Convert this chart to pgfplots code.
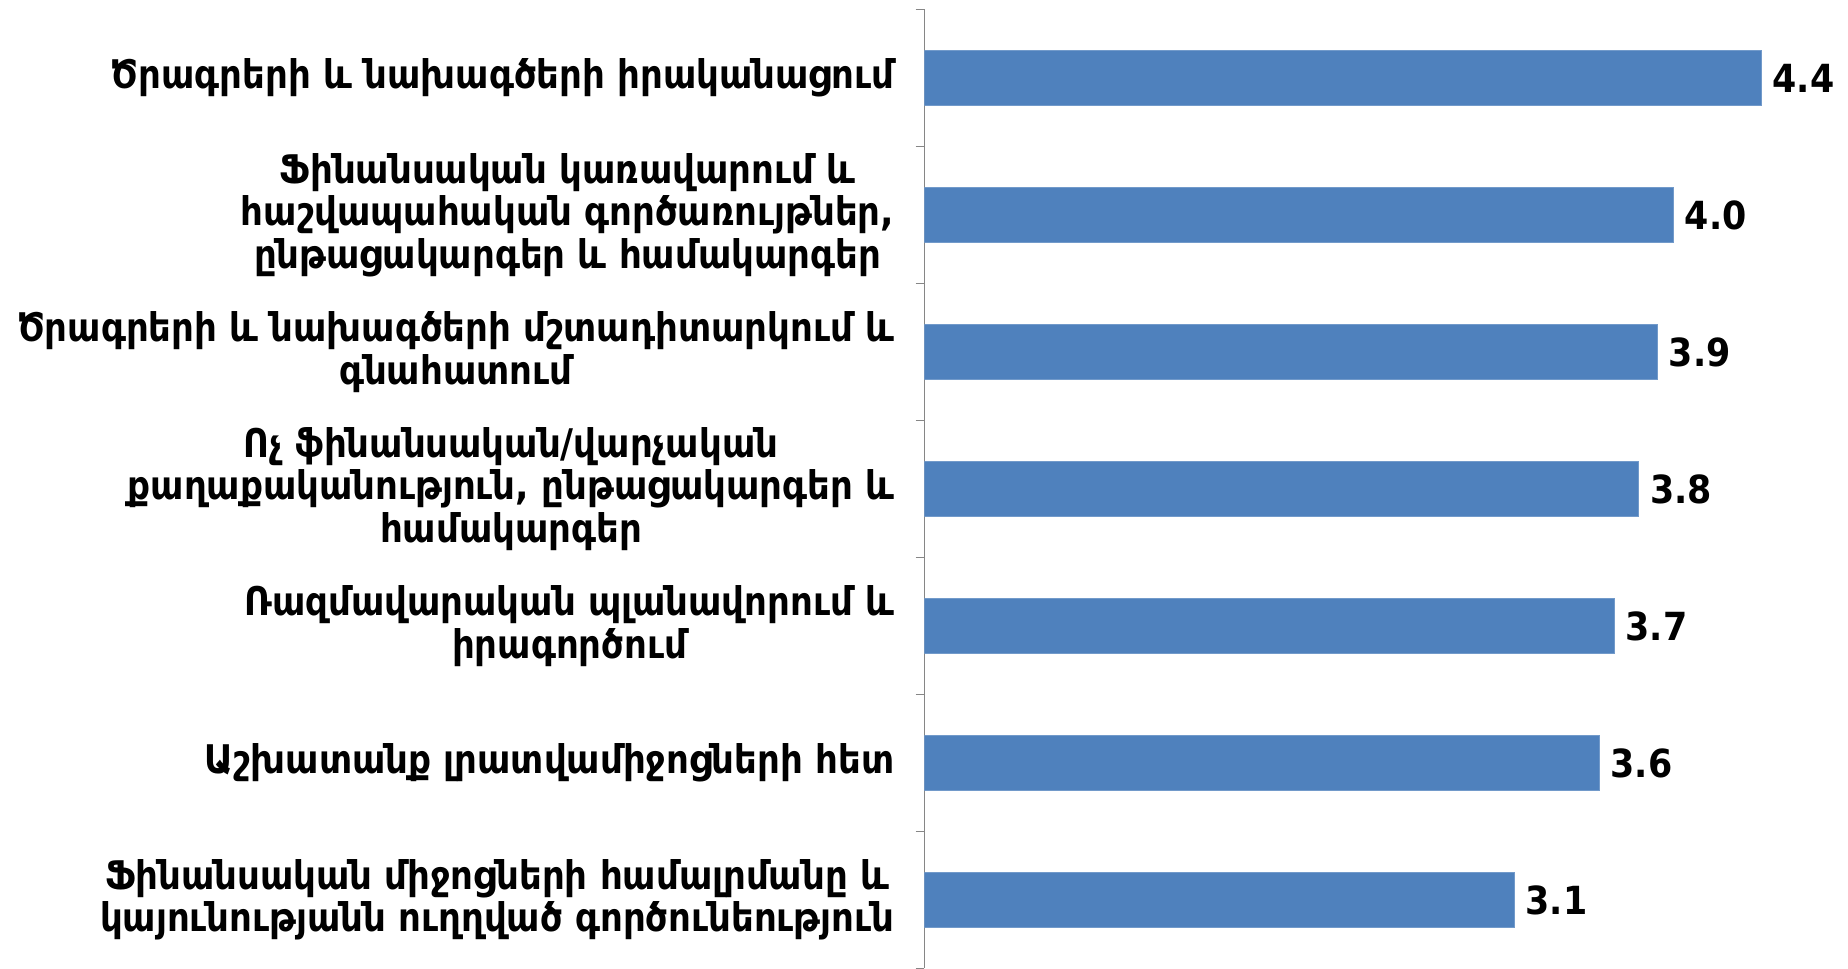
\documentclass[border=0pt]{standalone}
\usepackage{fontspec}
\setmainfont{DejaVu Sans Condensed}
\usepackage{pgfplots}
\pgfplotsset{compat=1.18}
\definecolor{barblue}{HTML}{4F81BD}
\definecolor{axgray}{HTML}{868686}
\begin{document}
\begin{tikzpicture}
\begin{axis}[
    xbar,
    scale only axis,
    width=369.6pt, height=383.8pt,
    xmin=0, xmax=4.9,
    ymin=-0.5, ymax=6.5,
    bar width=0.4,
    axis x line=none,
    axis y line*=left,
    y axis line style={draw=axgray, -},
    ytick={0,...,6},
    major tick length=0pt,
    minor ytick={-0.5,0.5,...,6.5},
    minor tick length=3.6pt,
    tick align=outside,
    minor tick style={axgray},
    yticklabel style={align=center, font=\bfseries\fontsize{15.8}{17}\selectfont, xshift=-8.5pt},
    yticklabels={
      {Ֆինանսական միջոցների համալրմանը և\\կայունությանն ուղղված գործունեություն},
      {Աշխատանք լրատվամիջոցների հետ},
      {Ռազմավարական պլանավորում և\\իրագործում},
      {Ոչ ֆինանսական/վարչական\\քաղաքականություն, ընթացակարգեր և\\համակարգեր},
      {Ծրագրերի և նախագծերի մշտադիտարկում և\\գնահատում},
      {Ֆինանսական կառավարում և\\հաշվապահական գործառույթներ,\\ընթացակարգեր և համակարգեր},
      {Ծրագրերի և նախագծերի իրականացում}
    },
    point meta=explicit symbolic,
    nodes near coords,
    nodes near coords align={horizontal},
    every node near coord/.append style={anchor=west, font=\bfseries\fontsize{15.5}{18}\selectfont, xshift=1pt},
]
\addplot[fill=barblue, draw=barblue!80!white] coordinates {
  (3.13,0) [3.1]
  (3.58,1) [3.6]
  (3.66,2) [3.7]
  (3.79,3) [3.8]
  (3.89,4) [3.9]
  (3.975,5) [4.0]
  (4.44,6) [4.4]
};
\end{axis}
\pgfresetboundingbox
\path (current axis.south west) ++(-370pt,0pt) rectangle ([yshift=3.8pt]current axis.north east);
\end{tikzpicture}
\end{document}
